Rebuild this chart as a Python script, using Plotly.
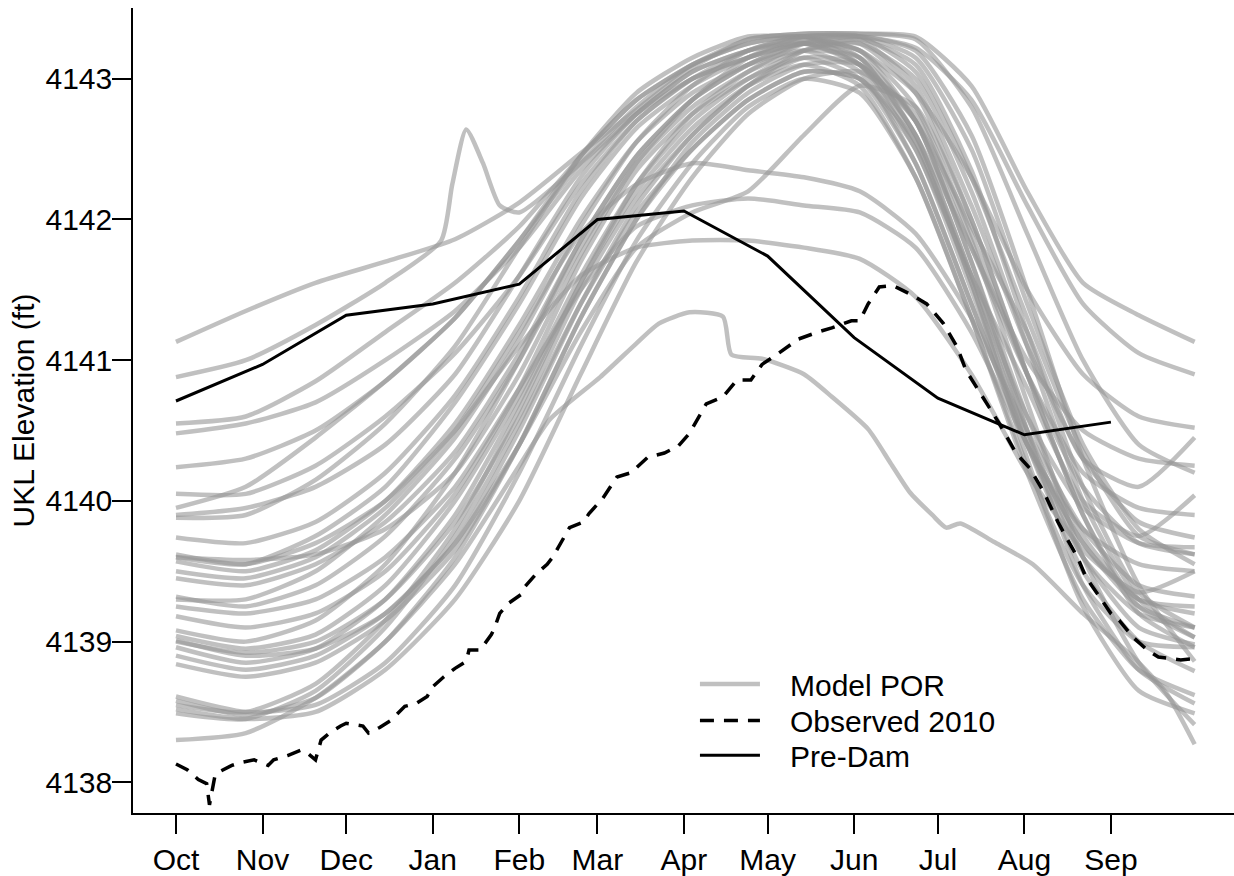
import plotly.graph_objects as go

# ---------------- axis definitions ----------------
MONTH_DAYS = [0, 31, 61, 92, 123, 151, 182, 212, 243, 273, 304, 335]
MONTH_LABELS = ["Oct", "Nov", "Dec", "Jan", "Feb", "Mar", "Apr", "May", "Jun", "Jul", "Aug", "Sep"]
Y_TICKS = [4138, 4139, 4140, 4141, 4142, 4143]

# ---------------- Model POR (day of water year -> elevation, ft) ----------------
POR_DAYS = [0, 25, 50, 75, 100, 123, 145, 165, 185, 205, 225, 245, 265, 285, 305, 325, 345, 365]

por_01 = [4141.13, 4141.35, 4141.55, 4141.70, 4141.86, 4142.12, 4142.47, 4142.78, 4143.08, 4143.28, 4143.32, 4143.32, 4143.30, 4142.95, 4142.20, 4141.55, 4141.32, 4141.13]
por_03 = [4140.55, 4140.60, 4140.85, 4141.20, 4141.55, 4141.95, 4142.45, 4142.85, 4143.10, 4143.25, 4143.30, 4143.20, 4142.90, 4142.30, 4141.50, 4140.90, 4140.60, 4140.52]
por_04 = [4140.48, 4140.55, 4140.70, 4141.00, 4141.35, 4141.80, 4142.35, 4142.75, 4143.05, 4143.20, 4143.25, 4143.10, 4142.70, 4141.95, 4141.20, 4140.30, 4140.10, 4140.45]
por_05 = [4140.24, 4140.30, 4140.50, 4140.85, 4141.30, 4141.85, 4142.40, 4142.80, 4143.10, 4143.25, 4143.30, 4143.15, 4142.60, 4141.80, 4141.00, 4140.50, 4140.30, 4140.25]
por_06 = [4140.05, 4140.05, 4140.25, 4140.60, 4141.05, 4141.60, 4142.25, 4142.70, 4143.00, 4143.20, 4143.30, 4143.10, 4142.50, 4141.60, 4140.80, 4140.00, 4139.75, 4140.04]
por_07 = [4139.90, 4139.95, 4140.10, 4140.40, 4140.90, 4141.60, 4142.30, 4142.75, 4143.05, 4143.20, 4143.28, 4143.20, 4142.70, 4141.80, 4140.90, 4140.20, 4139.95, 4139.90]
por_08 = [4139.88, 4139.90, 4140.15, 4140.55, 4141.10, 4141.80, 4142.45, 4142.90, 4143.15, 4143.30, 4143.30, 4143.28, 4142.95, 4142.10, 4141.10, 4140.30, 4139.85, 4139.74]
por_09 = [4139.74, 4139.70, 4139.85, 4140.20, 4140.75, 4141.45, 4142.20, 4142.70, 4143.00, 4143.15, 4143.25, 4143.15, 4142.60, 4141.60, 4140.60, 4139.95, 4139.70, 4139.67]
por_10 = [4139.60, 4139.55, 4139.75, 4140.10, 4140.70, 4141.40, 4142.15, 4142.65, 4142.95, 4143.15, 4143.25, 4143.20, 4142.80, 4141.90, 4140.90, 4140.10, 4139.70, 4139.62]
por_11 = [4139.57, 4139.50, 4139.65, 4140.00, 4140.55, 4141.25, 4142.00, 4142.55, 4142.90, 4143.10, 4143.20, 4143.05, 4142.40, 4141.40, 4140.40, 4139.80, 4139.55, 4139.50]
por_12 = [4139.50, 4139.45, 4139.60, 4139.95, 4140.50, 4141.20, 4141.90, 4142.25, 4142.40, 4142.35, 4142.30, 4142.20, 4141.90, 4141.30, 4140.50, 4139.80, 4139.40, 4139.32]
por_13 = [4139.32, 4139.25, 4139.40, 4139.75, 4140.30, 4141.00, 4141.80, 4142.40, 4142.80, 4143.05, 4143.20, 4143.15, 4142.70, 4141.70, 4140.60, 4139.75, 4139.30, 4139.20]
por_14 = [4139.18, 4139.10, 4139.20, 4139.50, 4140.05, 4140.80, 4141.70, 4142.35, 4142.75, 4143.00, 4143.15, 4143.00, 4142.40, 4141.40, 4140.40, 4139.60, 4139.20, 4139.10]
por_15 = [4139.08, 4139.00, 4139.15, 4139.55, 4140.20, 4141.00, 4141.85, 4142.45, 4142.85, 4143.10, 4143.25, 4143.25, 4142.90, 4142.00, 4140.90, 4139.90, 4139.25, 4139.03]
por_16 = [4139.04, 4138.95, 4139.05, 4139.40, 4140.00, 4140.75, 4141.60, 4142.25, 4142.70, 4143.00, 4143.20, 4143.25, 4143.00, 4142.20, 4141.10, 4140.00, 4139.30, 4139.03]
por_17 = [4139.01, 4138.90, 4138.95, 4139.20, 4139.70, 4140.50, 4141.40, 4142.10, 4142.60, 4142.95, 4143.15, 4143.10, 4142.60, 4141.60, 4140.50, 4139.60, 4139.10, 4138.98]
por_18 = [4138.96, 4138.85, 4138.95, 4139.30, 4139.90, 4140.70, 4141.55, 4142.20, 4142.65, 4142.95, 4143.10, 4142.95, 4142.30, 4141.30, 4140.25, 4139.40, 4139.00, 4138.96]
por_19 = [4138.84, 4138.75, 4138.85, 4139.15, 4139.65, 4140.40, 4141.30, 4142.00, 4142.50, 4142.85, 4143.05, 4143.00, 4142.50, 4141.50, 4140.40, 4139.50, 4139.00, 4138.79]
por_20 = [4138.61, 4138.50, 4138.55, 4138.85, 4139.40, 4140.20, 4141.10, 4141.85, 4142.40, 4142.80, 4143.00, 4142.90, 4142.30, 4141.30, 4140.20, 4139.30, 4138.80, 4138.62]
por_21 = [4138.58, 4138.48, 4138.60, 4139.00, 4139.60, 4140.40, 4141.30, 4142.00, 4142.55, 4142.90, 4143.10, 4143.10, 4142.70, 4141.70, 4140.50, 4139.40, 4138.80, 4138.56]
por_22 = [4138.49, 4138.45, 4138.65, 4139.10, 4139.75, 4140.55, 4141.40, 4142.05, 4142.50, 4142.85, 4143.05, 4143.00, 4142.55, 4141.55, 4140.30, 4139.25, 4138.65, 4138.49]
por_24 = [4139.25, 4139.20, 4139.30, 4139.60, 4140.10, 4140.80, 4141.50, 4141.95, 4142.10, 4142.15, 4142.10, 4142.05, 4141.80, 4141.20, 4140.40, 4139.70, 4139.25, 4139.10]
por_25 = [4138.90, 4138.80, 4138.90, 4139.20, 4139.70, 4140.40, 4141.20, 4141.80, 4142.05, 4142.20, 4142.60, 4142.95, 4142.80, 4142.00, 4140.90, 4139.90, 4139.20, 4138.96]
por_26 = [4139.62, 4139.55, 4139.70, 4140.00, 4140.50, 4141.10, 4141.60, 4141.80, 4141.85, 4141.85, 4141.80, 4141.72, 4141.45, 4140.90, 4140.20, 4139.65, 4139.35, 4139.50]
por_27 = [4138.52, 4138.45, 4138.50, 4138.80, 4139.30, 4140.00, 4140.90, 4141.70, 4142.30, 4142.75, 4143.00, 4143.05, 4142.75, 4141.85, 4140.70, 4139.60, 4138.85, 4138.41]
por_28 = [4139.30, 4139.30, 4139.50, 4139.90, 4140.45, 4141.15, 4141.95, 4142.55, 4142.95, 4143.20, 4143.30, 4143.30, 4143.05, 4142.30, 4141.30, 4140.35, 4139.75, 4139.62]
por_29 = [4139.60, 4139.58, 4139.62, 4139.80, 4140.20, 4140.90, 4141.75, 4142.40, 4142.85, 4143.15, 4143.30, 4143.30, 4143.15, 4142.50, 4141.40, 4140.40, 4139.80, 4139.55]
por_30 = [4139.00, 4138.92, 4139.00, 4139.30, 4139.85, 4140.60, 4141.50, 4142.15, 4142.60, 4142.95, 4143.20, 4143.28, 4143.10, 4142.35, 4141.20, 4140.10, 4139.35, 4139.10]
por_31 = [4138.55, 4138.50, 4138.70, 4139.15, 4139.80, 4140.65, 4141.55, 4142.25, 4142.75, 4143.05, 4143.25, 4143.30, 4143.20, 4142.60, 4141.50, 4140.30, 4139.40, 4138.86]
por_32 = [4139.45, 4139.40, 4139.55, 4139.85, 4140.35, 4141.05, 4141.85, 4142.45, 4142.85, 4143.10, 4143.25, 4143.10, 4142.55, 4141.55, 4140.45, 4139.70, 4139.30, 4139.25]
por_33 = [4139.95, 4140.10, 4140.45, 4140.85, 4141.30, 4141.85, 4142.45, 4142.85, 4143.10, 4143.28, 4143.32, 4143.32, 4143.28, 4142.80, 4141.90, 4141.00, 4140.40, 4140.20]

# year with the mid-winter spike
SPIKE_DAYS = [0, 25, 50, 75, 95, 99, 104, 110, 116, 123, 145, 165, 185, 205, 225, 245, 265, 285, 305, 325, 345, 365]
por_02 = [4140.88, 4141.00, 4141.25, 4141.55, 4141.85, 4142.25, 4142.64, 4142.40, 4142.10, 4142.05, 4142.40, 4142.75, 4143.00, 4143.15, 4143.28, 4143.30, 4143.22, 4142.85, 4142.10, 4141.40, 4141.05, 4140.90]

# dry year (lowest peak)
DRY_DAYS = [0, 25, 50, 75, 100, 123, 134, 152, 165, 173, 184, 196, 199, 210, 225, 235, 248, 256, 263, 271, 276, 281, 293, 307, 325, 343, 355, 365]
por_23 = [4138.30, 4138.35, 4138.60, 4139.00, 4139.55, 4140.25, 4140.58, 4140.88, 4141.12, 4141.26, 4141.34, 4141.31, 4141.04, 4141.01, 4140.90, 4140.74, 4140.51, 4140.27, 4140.06, 4139.90, 4139.81, 4139.84, 4139.71, 4139.55, 4139.20, 4138.89, 4138.63, 4138.27]

# ---------------- Observed 2010 ----------------
OBS_DAYS = [0, 4, 8, 11, 12, 14, 15, 20, 23, 28, 33, 35, 40, 45, 47, 50, 52, 55, 59, 61,
            67, 69, 73, 77, 82, 86, 90, 92, 96, 100, 104, 105, 109, 113, 114, 116, 119, 124, 125, 129,
            133, 135, 139, 141, 146, 148, 153, 158, 163, 169, 175, 180, 184, 190, 196, 201, 206, 210, 216, 223,
            230, 235, 242, 245, 248, 252, 257, 263, 269, 275, 280, 283, 289, 295, 301, 306, 311, 316, 319, 323,
            326, 330, 335, 338, 343, 348, 352, 356, 360, 365]
obs_2010 = [4138.13, 4138.09, 4138.02, 4137.99, 4137.84, 4138.05, 4138.07, 4138.12, 4138.14, 4138.16, 4138.12, 4138.16, 4138.19, 4138.23, 4138.21, 4138.16, 4138.30, 4138.35, 4138.40, 4138.42,
            4138.40, 4138.35, 4138.39, 4138.44, 4138.54, 4138.56, 4138.61, 4138.68, 4138.75, 4138.81, 4138.86, 4138.94, 4138.94, 4139.05, 4139.09, 4139.20, 4139.27, 4139.34, 4139.39, 4139.48,
            4139.55, 4139.60, 4139.74, 4139.81, 4139.85, 4139.91, 4140.02, 4140.17, 4140.20, 4140.31, 4140.34, 4140.39, 4140.48, 4140.69, 4140.74, 4140.86, 4140.86, 4140.97, 4141.05, 4141.15,
            4141.20, 4141.23, 4141.28, 4141.28, 4141.40, 4141.52, 4141.53, 4141.47, 4141.40, 4141.26, 4141.09, 4140.93, 4140.74, 4140.55, 4140.34, 4140.23, 4140.06, 4139.85, 4139.74, 4139.60,
            4139.46, 4139.34, 4139.20, 4139.15, 4139.03, 4138.94, 4138.89, 4138.88, 4138.87, 4138.88]

# ---------------- Pre-Dam (monthly) ----------------
PREDAM_DAYS = [0, 31, 61, 92, 123, 151, 182, 212, 243, 273, 304, 335]
predam = [4140.71, 4140.97, 4141.32, 4141.40, 4141.54, 4142.00, 4142.06, 4141.74, 4141.16, 4140.73, 4140.47, 4140.56]

por_series = [
    (SPIKE_DAYS, por_02), (POR_DAYS, por_01), (POR_DAYS, por_03), (POR_DAYS, por_04), (POR_DAYS, por_05),
    (POR_DAYS, por_06), (POR_DAYS, por_07), (POR_DAYS, por_08), (POR_DAYS, por_09), (POR_DAYS, por_10),
    (POR_DAYS, por_11), (POR_DAYS, por_12), (POR_DAYS, por_13), (POR_DAYS, por_14), (POR_DAYS, por_15),
    (POR_DAYS, por_16), (POR_DAYS, por_17), (POR_DAYS, por_18), (POR_DAYS, por_19), (POR_DAYS, por_20),
    (POR_DAYS, por_21), (POR_DAYS, por_22), (DRY_DAYS, por_23), (POR_DAYS, por_24), (POR_DAYS, por_25),
    (POR_DAYS, por_26), (POR_DAYS, por_27), (POR_DAYS, por_28), (POR_DAYS, por_29), (POR_DAYS, por_30),
    (POR_DAYS, por_31), (POR_DAYS, por_32), (POR_DAYS, por_33),
]

FONT = "Liberation Sans, Arial, sans-serif"
FS = 30
GRAY = "rgba(150,150,150,0.6)"
PAD = "\u00a0\u00a0\u00a0"

fig = go.Figure()
for i, (d, v) in enumerate(por_series):
    fig.add_trace(go.Scatter(
        x=d, y=v, mode="lines", name=PAD + "Model POR", legendgroup="por",
        showlegend=(i == 0), legend="legend",
        line=dict(color=GRAY, width=4.5, shape="spline", smoothing=0.6),
        hoverinfo="skip",
    ))

fig.add_trace(go.Scatter(
    x=OBS_DAYS, y=obs_2010, mode="lines", name=PAD + "Observed 2010", legend="legend2",
    line=dict(color="black", width=3.5, dash="14px,10px"),
))
fig.add_trace(go.Scatter(
    x=PREDAM_DAYS, y=predam, mode="lines", name=PAD + "Pre-Dam", legend="legend3",
    line=dict(color="black", width=3),
))

axis_common = dict(
    showgrid=False, zeroline=False, showline=True, linecolor="black", linewidth=1.5,
    ticks="outside", ticklen=19, tickwidth=1.5, tickcolor="black",
    tickfont=dict(family=FONT, size=FS, color="black"), mirror=False,
)

LEG_X = 0.5104
leg_common = dict(x=LEG_X, xanchor="left", yanchor="top", bgcolor="rgba(0,0,0,0)",
                  font=dict(family=FONT, size=FS, color="black"), itemwidth=60, tracegroupgap=0)

fig.update_layout(
    width=1234, height=876,
    margin=dict(l=133, r=0, t=8, b=55),
    paper_bgcolor="white", plot_bgcolor="white",
    font=dict(family=FONT, size=FS, color="black"),
    xaxis=dict(range=[-15.4, 379.1], tickmode="array", tickvals=MONTH_DAYS, ticktext=MONTH_LABELS, **axis_common),
    yaxis=dict(range=[4137.782, 4143.503], tickmode="array", tickvals=Y_TICKS,
               ticktext=[str(t) for t in Y_TICKS], ticklabelstandoff=-6,
               title=dict(text="UKL Elevation (ft)", font=dict(family=FONT, size=FS, color="black"), standoff=2),
               **axis_common),
    legend=dict(y=0.1926, **leg_common),
    legend2=dict(y=0.1471, **leg_common),
    legend3=dict(y=0.1041, **leg_common),
    showlegend=True,
)

fig.write_html("out.html")
